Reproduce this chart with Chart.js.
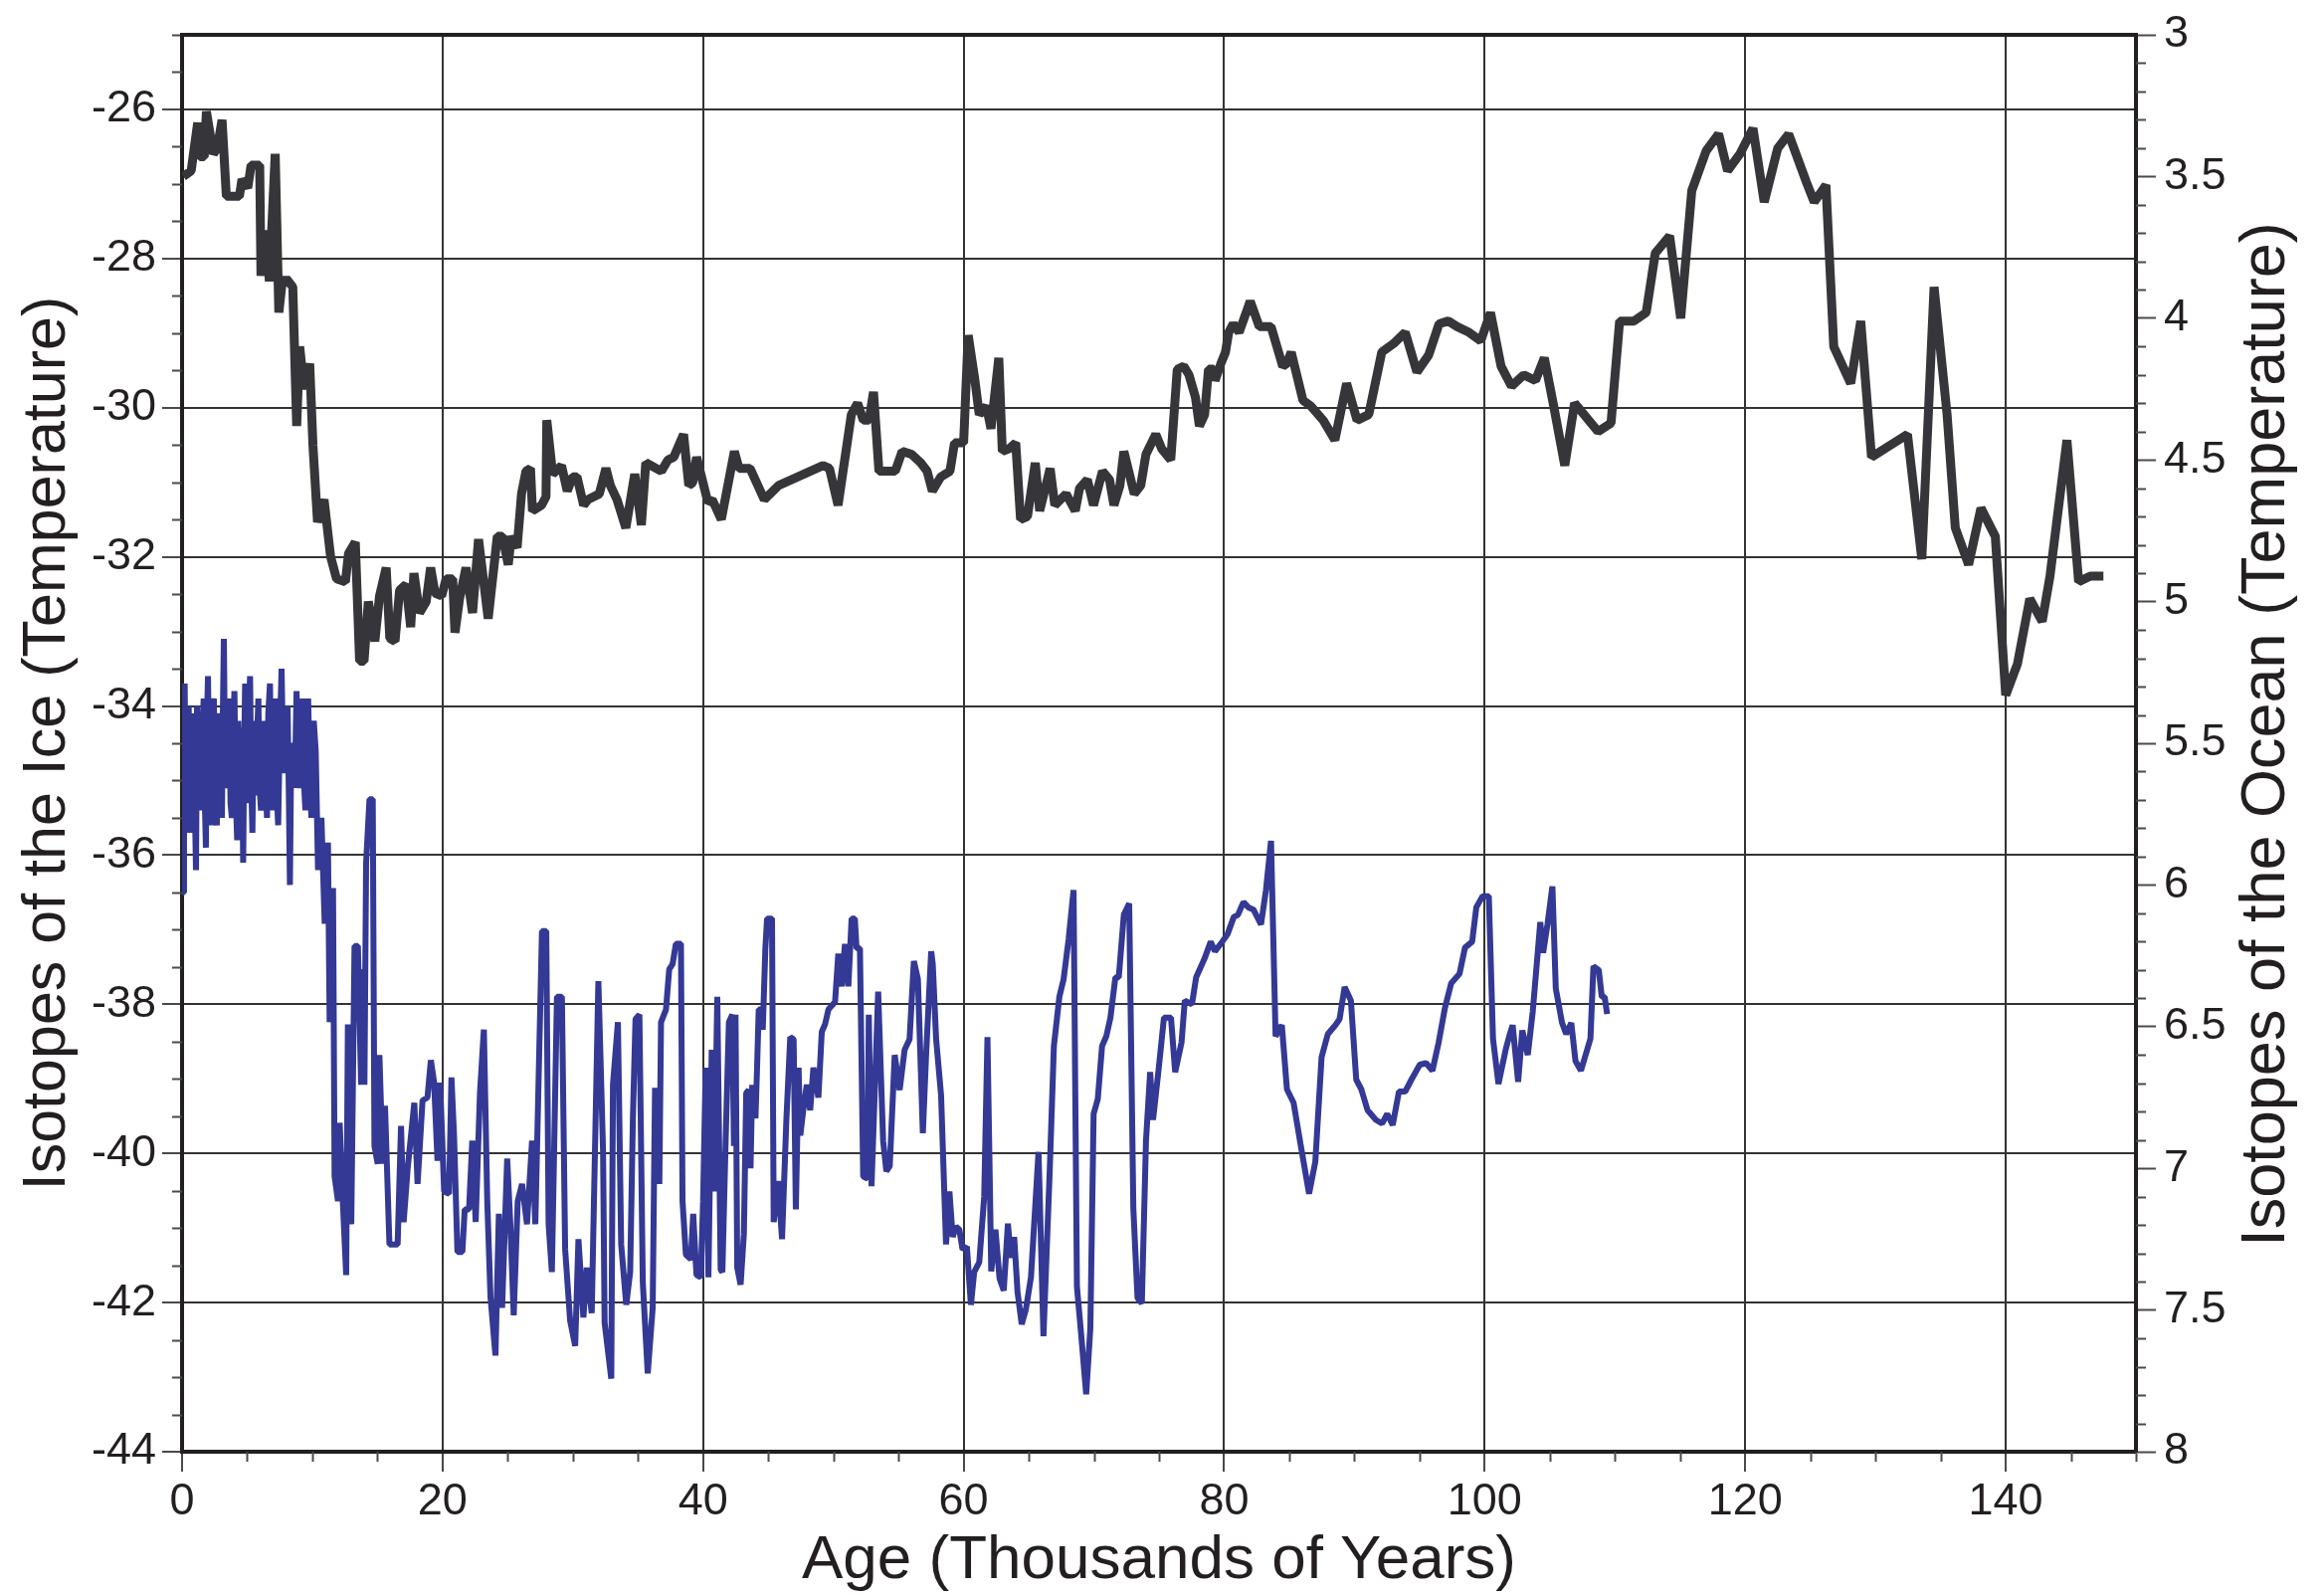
<!DOCTYPE html>
<html>
<head>
<meta charset="utf-8">
<title>Isotopes of the Ice and the Ocean</title>
<script src="https://cdn.jsdelivr.net/npm/chart.js@4.4.1/dist/chart.umd.min.js"></script>
<style>
  html, body { margin: 0; padding: 0; background: #ffffff; }
  #wrap { width: 2336px; height: 1603px; }
</style>
</head>
<body>
<div id="wrap"><canvas id="isoChart" width="2336" height="1603"></canvas></div>
<script>
// Ice core isotopes (left axis) - age in thousands of years
const iceAge = [
    0.0, 0.08, 0.15, 0.2, 0.3, 0.36, 0.45, 0.51, 0.6, 0.71, 0.8, 0.89, 0.98, 1.07, 1.15, 1.27, 1.35, 1.48, 1.57, 1.66,
    1.75, 1.83, 1.91, 1.99, 2.08, 2.16, 2.24, 2.34, 2.44, 2.55, 2.67, 2.76, 2.85, 2.96, 3.06, 3.14, 3.21, 3.31, 3.41, 3.52,
    3.62, 3.72, 3.82, 3.92, 4.02, 4.12, 4.23, 4.31, 4.38, 4.5, 4.6, 4.69, 4.77, 4.84, 4.95, 5.04, 5.13, 5.22, 5.31, 5.4,
    5.5, 5.6, 5.7, 5.78, 5.86, 5.96, 6.06, 6.15, 6.24, 6.32, 6.42, 6.52, 6.62, 6.75, 6.85, 6.98, 7.05, 7.13, 7.25, 7.38,
    7.5, 7.64, 7.75, 7.89, 7.98, 8.1, 8.2, 8.28, 8.38, 8.53, 8.65, 8.79, 8.9, 9.04, 9.13, 9.22, 9.35, 9.47, 9.58, 9.68,
    9.8, 9.93, 10.02, 10.11, 10.26, 10.44, 10.7, 10.95, 11.2, 11.33, 11.59, 11.71, 11.97, 12.1, 12.35, 12.6, 12.73, 12.99, 13.24, 13.5,
    13.75, 13.88, 14.0, 14.13, 14.39, 14.64, 14.77, 15.02, 15.15, 15.41, 15.58, 15.92, 16.55, 16.81, 17.01, 17.32, 17.83, 18.08, 18.46, 18.84,
    19.1, 19.35, 19.61, 19.81, 20.12, 20.5, 20.68, 20.88, 21.14, 21.52, 21.7, 22.03, 22.28, 22.54, 22.87, 23.17, 23.43, 23.68, 24.06, 24.32,
    24.57, 24.96, 25.21, 25.46, 25.77, 26.1, 26.48, 26.87, 27.12, 27.63, 27.96, 28.14, 28.39, 28.78, 29.16, 29.41, 29.79, 30.18, 30.43, 30.81,
    31.07, 31.45, 31.96, 32.32, 32.44, 32.95, 33.08, 33.46, 33.71, 34.1, 34.4, 34.61, 34.81, 35.11, 35.37, 35.75, 36.13, 36.31, 36.64, 36.77,
    37.15, 37.4, 37.66, 37.91, 38.3, 38.42, 38.68, 39.06, 39.24, 39.49, 39.82, 40.0, 40.2, 40.41, 40.66, 40.84, 41.09, 41.35, 41.48, 41.73,
    41.98, 42.24, 42.37, 42.49, 42.62, 42.88, 43.13, 43.31, 43.51, 43.64, 43.77, 44.02, 44.15, 44.27, 44.4, 44.58, 44.78, 44.91, 45.29, 45.42,
    45.75, 46.06, 46.39, 46.69, 46.95, 47.12, 47.33, 47.46, 47.71, 47.96, 48.22, 48.47, 48.85, 49.11, 49.36, 49.62, 50.13, 50.38, 50.64, 50.89,
    51.15, 51.4, 51.65, 51.78, 52.04, 52.29, 52.62, 52.72, 52.93, 53.44, 53.82, 54.07, 54.33, 54.71, 55.09, 55.47, 55.85, 56.18, 56.49, 56.87,
    57.12, 57.51, 57.63, 57.89, 58.27, 58.65, 58.91, 59.16, 59.41, 59.67, 59.92, 60.25, 60.56, 60.81, 61.2, 61.58, 61.83, 62.12, 62.44, 62.76,
    63.08, 63.4, 63.63, 63.88, 64.14, 64.46, 64.78, 65.17, 65.75, 66.13, 66.61, 66.93, 67.35, 67.67, 68.06, 68.44, 68.7, 69.02, 69.41, 69.73,
    69.98, 70.3, 70.63, 70.95, 71.27, 71.65, 71.91, 72.3, 72.71, 73.03, 73.35, 73.68, 74.0, 74.32, 74.54, 74.96, 75.38, 75.92, 76.24, 76.73,
    76.98, 77.53, 77.85, 78.49, 78.97, 79.29, 79.78, 80.26, 80.74, 81.06, 81.48, 81.86, 82.25, 82.83, 83.21, 83.6, 83.95, 84.43, 84.82, 85.33,
    85.87, 86.52, 87.0, 87.48, 87.96, 88.54, 88.86, 89.25, 89.73, 90.14, 90.53, 91.01, 91.65, 92.13, 92.52, 92.94, 93.42, 93.9, 94.38, 95.02,
    95.51, 95.99, 96.47, 96.95, 97.43, 98.07, 98.49, 99.04, 99.36, 99.84, 100.32, 100.64, 101.06, 101.61, 101.93, 102.15, 102.57, 102.89, 103.31, 103.69,
    104.27, 104.49, 104.82, 105.2, 105.46, 105.94, 106.26, 106.65, 106.97, 107.39, 108.12, 108.35, 108.76, 108.99, 109.21, 109.4
];
const iceIso = [
    -34.9, -36.5, -34.2, -33.7, -35.6, -34.1, -35.2, -34.0, -35.7, -34.3, -35.5, -34.1, -35.3, -36.2, -34.0, -35.4, -34.1, -35.4, -34.3, -33.9,
    -35.3, -35.9, -34.2, -33.6, -35.1, -34.3, -35.6, -34.0, -33.9, -35.4, -35.6, -34.2, -34.1, -35.2, -35.5, -34.0, -33.1, -35.0, -35.1, -34.2,
    -33.9, -35.3, -35.5, -34.3, -33.8, -35.2, -35.8, -34.2, -34.6, -35.4, -34.3, -36.1, -34.6, -33.7, -35.1, -35.3, -34.1, -33.6, -35.0, -35.7,
    -34.2, -34.5, -35.2, -34.3, -33.9, -35.1, -35.4, -34.4, -35.3, -34.2, -35.0, -35.5, -34.1, -33.7, -35.0, -35.4, -34.3, -33.9, -35.1, -35.6,
    -34.4, -33.5, -34.6, -34.9, -34.1, -34.0, -35.2, -36.4, -34.6, -34.5, -35.1, -33.8, -34.8, -35.1, -34.2, -33.9, -35.0, -35.4, -34.3, -33.9,
    -34.9, -35.5, -34.4, -34.2, -34.6, -36.2, -35.5, -36.92, -35.83, -38.24, -36.44, -40.31, -40.64, -39.59, -40.68, -41.63, -38.27, -40.95, -37.22, -37.22,
    -39.08, -37.53, -39.08, -36.1, -35.25, -35.25, -39.9, -40.14, -38.68, -40.14, -39.36, -41.22, -41.22, -39.63, -40.92, -40.2, -39.32, -40.41, -39.29, -39.25,
    -38.75, -39.05, -40.1, -39.05, -40.51, -40.54, -38.98, -39.76, -41.32, -41.32, -40.75, -40.75, -39.83, -40.92, -39.19, -38.34, -40.64, -41.93, -42.71, -40.81,
    -42.07, -40.07, -40.98, -42.17, -40.64, -40.41, -40.95, -39.83, -40.95, -37.02, -37.02, -40.95, -41.59, -37.9, -37.9, -41.29, -42.24, -42.58, -41.15, -42.2,
    -41.53, -42.14, -37.69, -39.97, -42.27, -43.02, -39.08, -38.24, -41.22, -42.03, -41.59, -39.53, -38.2, -38.14, -41.73, -42.95, -42.07, -39.12, -40.41, -38.24,
    -38.07, -37.53, -37.46, -37.19, -37.19, -40.64, -41.36, -41.42, -40.81, -41.63, -41.66, -40.64, -38.85, -41.66, -38.61, -40.51, -37.9, -41.56, -41.59, -39.83,
    -38.24, -38.14, -39.9, -38.14, -41.53, -41.76, -41.08, -39.19, -39.15, -40.2, -39.08, -39.53, -38.81, -38.07, -38.07, -38.34, -37.25, -36.85, -36.85, -40.92,
    -40.37, -41.15, -39.56, -38.44, -38.47, -40.75, -38.85, -39.76, -39.39, -39.08, -39.42, -38.85, -39.25, -38.37, -38.27, -38.07, -37.97, -37.32, -37.76, -37.19,
    -37.76, -36.85, -36.85, -37.25, -37.25, -40.31, -40.34, -38.14, -40.44, -37.83, -39.83, -40.24, -40.17, -38.68, -39.15, -38.61, -38.47, -37.42, -37.66, -39.73,
    -38.68, -37.29, -37.46, -38.47, -39.22, -41.22, -40.51, -41.12, -40.98, -41.02, -41.29, -41.25, -42.03, -41.59, -41.46, -40.58, -38.44, -41.58, -41.02, -41.68,
    -41.84, -40.94, -41.4, -41.12, -41.86, -42.29, -42.09, -41.66, -39.98, -42.45, -40.23, -38.56, -37.9, -37.67, -37.13, -36.47, -41.79, -42.42, -43.23, -42.34,
    -39.47, -39.27, -38.56, -38.43, -38.18, -37.64, -37.64, -36.8, -36.65, -40.74, -41.94, -42.01, -39.83, -38.91, -39.55, -38.89, -38.18, -38.18, -38.91, -38.51,
    -37.95, -38.0, -37.64, -37.39, -37.16, -37.29, -37.18, -37.06, -36.83, -36.8, -36.63, -36.7, -36.73, -36.93, -36.47, -35.81, -38.43, -38.28, -39.14, -39.32,
    -39.88, -40.54, -40.11, -38.71, -38.4, -38.28, -38.2, -37.77, -37.95, -39.01, -39.14, -39.42, -39.55, -39.6, -39.47, -39.62, -39.17, -39.17, -39.01, -38.81,
    -38.79, -38.89, -38.51, -38.05, -37.72, -37.59, -37.24, -37.16, -36.7, -36.55, -36.55, -38.46, -39.07, -38.61, -38.4, -38.28, -39.04, -38.35, -38.68, -38.1,
    -36.9, -37.31, -36.93, -36.42, -37.79, -38.25, -38.4, -38.25, -38.76, -38.89, -38.46, -37.49, -37.54, -37.9, -37.9, -38.13
];

// Ocean sediment isotopes (right axis, reversed)
const oceanAge = [
    0.1, 0.7, 1.2, 1.36, 1.7, 1.87, 2.4, 2.7, 3.07, 3.4, 4.4, 4.6, 5.04, 5.3, 5.96, 6.06, 6.47, 6.7, 7.15, 7.43,
    7.67, 8.0, 8.5, 8.8, 9.03, 9.37, 9.8, 10.05, 10.4, 10.9, 11.4, 11.86, 12.54, 12.78, 13.3, 13.63, 13.97, 14.3, 14.8, 15.16,
    15.67, 15.95, 16.35, 16.7, 17.2, 17.55, 17.8, 18.23, 18.74, 19.08, 19.42, 19.93, 20.27, 20.78, 20.95, 21.3, 21.8, 22.3, 22.76, 23.5,
    24.2, 24.6, 25.04, 25.28, 25.72, 26.06, 26.4, 26.75, 26.9, 27.6, 27.94, 28.0, 28.45, 29.13, 29.57, 29.98, 30.32, 30.83, 31.17, 32.03,
    32.54, 32.88, 33.39, 34.07, 34.75, 35.26, 35.6, 36.8, 37.3, 37.75, 38.5, 38.9, 39.2, 39.5, 40.37, 40.7, 41.4, 42.4, 42.76, 43.6,
    44.7, 45.8, 49.2, 49.7, 50.36, 51.38, 51.86, 52.3, 52.74, 53.08, 53.5, 54.75, 55.28, 56.0, 56.7, 57.2, 57.6, 58.25, 58.95, 59.3,
    60.0, 60.35, 60.87, 61.2, 61.75, 62.1, 62.7, 62.97, 63.5, 64.0, 64.37, 64.9, 65.5, 65.84, 66.64, 67.0, 67.87, 68.57, 68.9, 69.5,
    69.97, 70.66, 71.2, 71.54, 72.0, 72.3, 73.1, 73.6, 74.0, 74.75, 75.2, 75.9, 76.4, 76.9, 77.3, 77.8, 78.1, 78.5, 78.8, 79.2,
    79.3, 79.75, 80.1, 80.35, 80.7, 81.15, 82.0, 82.7, 83.6, 84.5, 84.8, 85.15, 86.05, 86.66, 87.6, 88.5, 89.4, 90.2, 91.1, 92.1,
    93.0, 93.9, 94.8, 95.7, 96.5, 97.2, 97.9, 98.8, 99.7, 100.45, 101.26, 102.06, 103.0, 103.9, 104.58, 105.3, 106.15, 106.9, 108.7, 109.7,
    110.36, 111.46, 112.4, 113.1, 114.2, 115.05, 115.9, 117.0, 117.96, 118.65, 119.6, 120.6, 121.46, 122.5, 123.34, 124.7, 125.3, 126.2, 126.8, 128.1,
    128.87, 129.7, 132.46, 133.56, 134.5, 135.5, 136.13, 137.15, 138.1, 139.2, 140.0, 140.9, 141.85, 142.8, 143.4, 144.7, 145.6, 146.5, 147.5
];
const oceanIso = [
    3.50, 3.48, 3.31, 3.43, 3.43, 3.27, 3.42, 3.40, 3.30, 3.57, 3.57, 3.51, 3.54, 3.46, 3.46, 3.85, 3.69, 3.87, 3.42, 3.98,
    3.88, 3.86, 3.89, 4.38, 4.10, 4.25, 4.16, 4.45, 4.72, 4.64, 4.84, 4.92, 4.93, 4.83, 4.79, 5.21, 5.21, 5.00, 5.14, 4.98,
    4.88, 5.13, 5.14, 4.96, 4.94, 5.09, 4.90, 5.04, 5.00, 4.88, 4.97, 4.98, 4.92, 4.92, 5.11, 4.99, 4.88, 5.04, 4.78, 5.06,
    4.77, 4.77, 4.87, 4.77, 4.81, 4.62, 4.54, 4.53, 4.68, 4.66, 4.63, 4.36, 4.55, 4.52, 4.61, 4.56, 4.56, 4.66, 4.64, 4.62,
    4.53, 4.59, 4.64, 4.74, 4.55, 4.73, 4.51, 4.54, 4.50, 4.49, 4.41, 4.59, 4.58, 4.49, 4.65, 4.64, 4.71, 4.47, 4.53, 4.53,
    4.64, 4.59, 4.52, 4.53, 4.66, 4.34, 4.30, 4.36, 4.36, 4.26, 4.54, 4.54, 4.47, 4.48, 4.51, 4.54, 4.61, 4.56, 4.54, 4.44,
    4.44, 4.06, 4.22, 4.34, 4.31, 4.39, 4.14, 4.47, 4.46, 4.44, 4.71, 4.70, 4.51, 4.68, 4.53, 4.66, 4.62, 4.68, 4.60, 4.57,
    4.66, 4.54, 4.57, 4.66, 4.59, 4.47, 4.62, 4.59, 4.48, 4.41, 4.46, 4.50, 4.18, 4.17, 4.20, 4.28, 4.38, 4.34, 4.18, 4.18,
    4.22, 4.16, 4.12, 4.05, 4.02, 4.05, 3.94, 4.03, 4.03, 4.17, 4.16, 4.12, 4.29, 4.31, 4.36, 4.43, 4.23, 4.36, 4.34, 4.12,
    4.09, 4.05, 4.19, 4.13, 4.02, 4.01, 4.03, 4.05, 4.08, 3.98, 4.17, 4.24, 4.20, 4.22, 4.14, 4.31, 4.52, 4.30, 4.40, 4.37,
    4.01, 4.01, 3.98, 3.77, 3.71, 4.00, 3.55, 3.41, 3.35, 3.48, 3.42, 3.33, 3.59, 3.40, 3.35, 3.52, 3.59, 3.53, 4.10, 4.23,
    4.01, 4.49, 4.41, 4.85, 3.89, 4.34, 4.74, 4.87, 4.67, 4.77, 5.33, 5.22, 4.99, 5.07, 4.91, 4.43, 4.93, 4.91, 4.91
];

// Axis ticks
const ageTicks = [0, 20, 40, 60, 80, 100, 120, 140];
const iceTicks = [-44, -42, -40, -38, -36, -34, -32, -30, -28, -26];
const oceanTicks = [3, 3.5, 4, 4.5, 5, 5.5, 6, 6.5, 7, 7.5, 8];

const textColor = '#231f20';
const fontFamily = "'Liberation Sans', Arial, Helvetica, sans-serif";

const iceData = iceAge.map((a, i) => ({ x: a, y: iceIso[i] }));
const oceanData = oceanAge.map((a, i) => ({ x: a, y: oceanIso[i] }));

// minor ticks, top frame and right-hand title
const extras = {
    id: 'extras',
    afterDraw(chart) {
        const { ctx, chartArea } = chart;
        const x = chart.scales.x;
        const y = chart.scales.y;
        const y2 = chart.scales.y2;
        ctx.save();
        ctx.strokeStyle = '#4a4a4a';
        ctx.lineWidth = 2;
        ctx.beginPath();
        for (let i = 0; i <= 38; i++) {
            if (i % 4 === 0) continue;
            const py = Math.round(y.getPixelForValue(-44 + i * 0.5)) + 0.5;
            ctx.moveTo(chartArea.left, py);
            ctx.lineTo(chartArea.left - 10, py);
        }
        for (let v = 0; v <= 150; v += 5) {
            if (v % 20 === 0) continue;
            const px = Math.round(x.getPixelForValue(v)) + 0.5;
            ctx.moveTo(px, chartArea.bottom);
            ctx.lineTo(px, chartArea.bottom + 10);
        }
        for (let i = 0; i <= 50; i++) {
            if (i % 5 === 0) continue;
            const py = Math.round(y2.getPixelForValue(3 + i * 0.1)) + 0.5;
            ctx.moveTo(chartArea.right, py);
            ctx.lineTo(chartArea.right + 10, py);
        }
        ctx.stroke();

        // top edge of the frame
        ctx.strokeStyle = textColor;
        ctx.lineWidth = 4;
        ctx.beginPath();
        ctx.moveTo(chartArea.left - 2, chartArea.top);
        ctx.lineTo(chartArea.right + 2, chartArea.top);
        ctx.stroke();

        // right title, reading upwards like the left one
        ctx.fillStyle = textColor;
        ctx.font = '63px ' + fontFamily;
        ctx.textAlign = 'center';
        ctx.textBaseline = 'middle';
        ctx.translate(2279, 738);
        ctx.rotate(-Math.PI / 2);
        ctx.fillText('Isotopes of the Ocean (Temperature)', 0, 0);
        ctx.restore();
    }
};

const ctx = document.getElementById('isoChart').getContext('2d');
const isoChart = new Chart(ctx, {
    type: 'line',
    data: {
        datasets: [
            {
                label: 'Isotopes of the Ocean',
                data: oceanData,
                yAxisID: 'y2',
                borderColor: '#36363a',
                borderWidth: 9,
                borderJoinStyle: 'bevel',
                fill: false,
                pointRadius: 0,
                tension: 0,
            },
            {
                label: 'Isotopes of the Ice',
                data: iceData,
                yAxisID: 'y',
                borderColor: '#333994',
                borderWidth: 6,
                borderJoinStyle: 'bevel',
                fill: false,
                pointRadius: 0,
                tension: 0,
            },
        ],
    },
    options: {
        responsive: false,
        animation: false,
        devicePixelRatio: 1,
        layout: { padding: { top: 27, left: 0, right: 0, bottom: 0 } },
        plugins: {
            legend: { display: false },
            tooltip: { enabled: false },
        },
        scales: {
            x: {
                type: 'linear',
                position: 'bottom',
                min: 0,
                max: 150,
                afterBuildTicks: (scale) => { scale.ticks = ageTicks.map(v => ({ value: v })); },
                afterFit: (scale) => { scale.height = 144; },
                ticks: {
                    color: textColor,
                    font: { family: fontFamily, size: 45 },
                    padding: 4,
                    maxRotation: 0,
                    callback: (v) => String(v),
                },
                grid: { color: '#333333', lineWidth: 2, tickLength: 20, tickColor: '#4a4a4a', tickWidth: 2 },
                border: { display: true, color: textColor, width: 4 },
                title: {
                    display: true,
                    text: 'Age (Thousands of Years)',
                    color: textColor,
                    font: { family: fontFamily, size: 62, lineHeight: 1 },
                    padding: { top: 0, bottom: 3 },
                },
            },
            y: {
                type: 'linear',
                position: 'left',
                min: -44,
                max: -25,
                afterBuildTicks: (scale) => { scale.ticks = iceTicks.map(v => ({ value: v })); },
                afterFit: (scale) => { scale.width = 183; },
                ticks: {
                    color: textColor,
                    font: { family: fontFamily, size: 45 },
                    padding: 6,
                    callback: (v) => String(v),
                },
                grid: { color: '#333333', lineWidth: 2, tickLength: 20, tickColor: '#4a4a4a', tickWidth: 2 },
                border: { display: true, color: textColor, width: 4 },
                title: {
                    display: true,
                    text: 'Isotopes of the Ice (Temperature)',
                    color: textColor,
                    font: { family: fontFamily, size: 61, lineHeight: 1.2 },
                    padding: { top: 12, bottom: 0 },
                },
            },
            y2: {
                type: 'linear',
                position: 'right',
                reverse: true,
                min: 3,
                max: 8,
                afterBuildTicks: (scale) => { scale.ticks = oceanTicks.map(v => ({ value: v })); },
                afterFit: (scale) => { scale.width = 189; },
                ticks: {
                    color: textColor,
                    font: { family: fontFamily, size: 45 },
                    padding: 8,
                    callback: (v) => String(v),
                },
                grid: { drawOnChartArea: false, tickLength: 20, tickColor: '#4a4a4a', tickWidth: 2 },
                border: { display: true, color: textColor, width: 4 },
            },
        },
    },
    plugins: [extras],
});
</script>
</body>
</html>
